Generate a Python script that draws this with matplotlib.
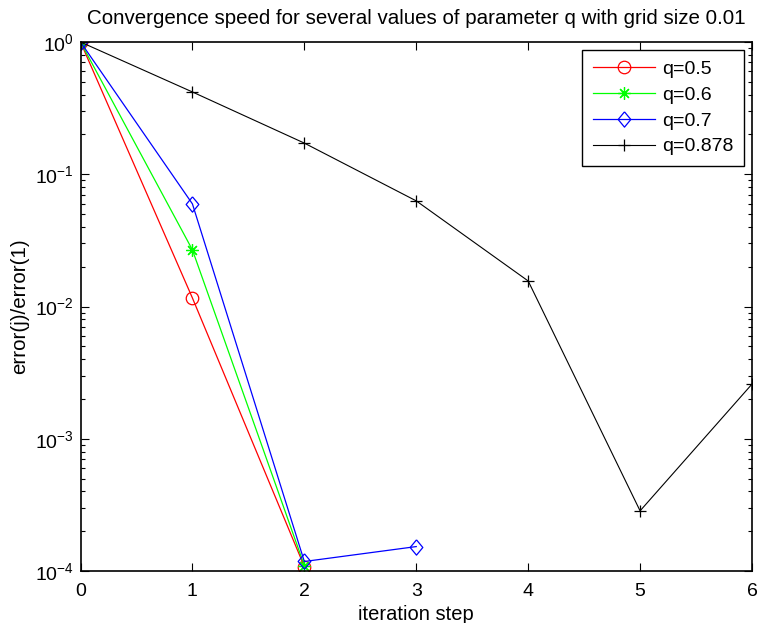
import matplotlib
matplotlib.use("Agg")
import matplotlib.pyplot as plt
from matplotlib.ticker import LogLocator, NullFormatter

plt.rcParams['font.family'] = ['Liberation Sans', 'DejaVu Sans']

steps_05 = [0, 1, 2]
vals_05 = [1.0, 0.0116, 1.08e-4]
steps_06 = [0, 1, 2]
vals_06 = [1.0, 0.0268, 1.10e-4]
steps_07 = [0, 1, 2, 3]
vals_07 = [1.0, 0.0597, 1.18e-4, 1.53e-4]
steps_0878 = [0, 1, 2, 3, 4, 5, 6]
vals_0878 = [1.0, 0.419, 0.172, 0.0629, 0.0156, 2.85e-4, 2.59e-3]
labels = ['q=0.5', 'q=0.6', 'q=0.7', 'q=0.878']

diamond = [(0, 1), (0.83, 0), (0, -1), (-0.83, 0), (0, 1)]

fig = plt.figure(figsize=(7.58, 6.23), dpi=100)
ax = fig.add_axes([80.5/758, 52/623, 671.5/758, 529/623])

ax.plot(steps_05, vals_05, color='#ff0000', lw=0.9, marker='o', ms=9, mfc='none', mew=0.9,
        label=labels[0])
ax.plot(steps_06, vals_06, color='#00ff00', lw=0.9, marker=(8, 2, 0), ms=9, mew=0.9, label=labels[1])
ax.plot(steps_07, vals_07, color='#0000ff', lw=0.9, marker=diamond, ms=11, mfc='none', mew=0.9,
        label=labels[2])
ax.plot(steps_0878, vals_0878, color='#000000', lw=0.8, marker='+', ms=9, mew=0.9, label=labels[3])

ax.set_yscale('log')
ax.set_xlim(0, 6)
ax.set_ylim(1e-4, 1)
ax.set_xticks(range(0, 7))
ax.yaxis.set_major_locator(LogLocator(base=10, numticks=10))
ax.yaxis.set_minor_locator(LogLocator(base=10, subs=range(2, 10), numticks=10))
ax.yaxis.set_minor_formatter(NullFormatter())
ax.tick_params(which='both', direction='in', top=True, right=True, labelsize=14, width=0.8)
ax.tick_params(axis='x', pad=9)
ax.tick_params(axis='y', pad=5)
ax.tick_params(which='major', length=6)
ax.tick_params(which='minor', length=3)
for s in ax.spines.values():
    s.set_linewidth(1.2)

ax.set_title('Convergence speed for several values of parameter q with grid size 0.01',
             fontsize=14.8, pad=13)
ax.set_xlabel('iteration step', fontsize=14.5, labelpad=3)
ax.set_ylabel('error(j)/error(1)', fontsize=14.8, labelpad=4)

leg = ax.legend(loc='upper right', fontsize=14, fancybox=False, edgecolor='black',
                framealpha=1, bbox_to_anchor=(1.0, 1.0), borderaxespad=0.4,
                handlelength=3.2, labelspacing=0.42, borderpad=0.55, handletextpad=0.35)
leg.get_frame().set_linewidth(1.0)

fig.savefig('out.png', dpi=100)
